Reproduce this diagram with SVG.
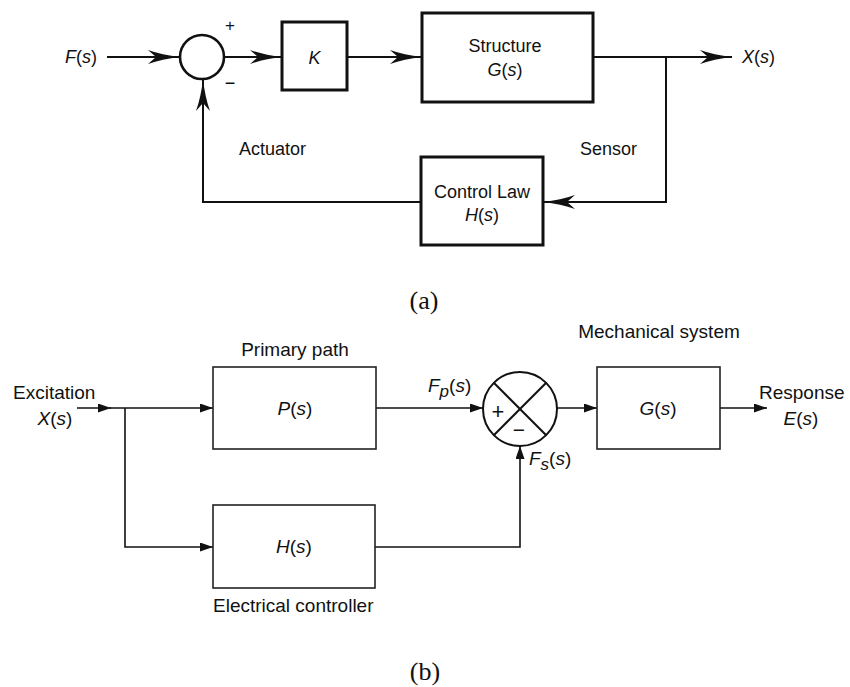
<svg xmlns="http://www.w3.org/2000/svg" width="850" height="687" viewBox="0 0 850 687">
<style>
.bg{fill:#fff}
.ta{font-family:"Liberation Sans",Arial,sans-serif;font-size:18px;fill:#111}
.tb{font-family:"Liberation Sans",Arial,sans-serif;font-size:19px;fill:#111}
.cap{font-family:"Liberation Serif","DejaVu Serif",serif;font-size:26px;fill:#111}
.i{font-style:italic}
.boxa{fill:#fff;stroke:#111;stroke-width:3}
.boxb{fill:#fff;stroke:#222;stroke-width:1.6}
.la{fill:none;stroke:#111;stroke-width:2}
.lb{fill:none;stroke:#111;stroke-width:1.6}
.ma{marker-end:url(#arrA)}
.mb{marker-end:url(#arrB)}
.mid{text-anchor:middle}
</style>
<defs>
<marker id="arrA" viewBox="0 0 32 14" refX="32" refY="7" markerWidth="32" markerHeight="14" markerUnits="userSpaceOnUse" orient="auto">
<path d="M0,0 Q14,5 32,7 Q14,9 0,14 L8,7 Z" fill="#111"/>
</marker>
<marker id="arrB" viewBox="0 0 13 9" refX="13" refY="4.5" markerWidth="13" markerHeight="9" markerUnits="userSpaceOnUse" orient="auto">
<path d="M0,0 L13,4.5 L0,9 Z" fill="#111"/>
</marker>
</defs>
<rect class="bg" x="0" y="0" width="850" height="687"/>

<g id="connectors">
<!-- (a) -->
<line class="la ma" x1="107" y1="57" x2="180" y2="57"/>
<line class="la ma" x1="224" y1="57" x2="282" y2="57"/>
<line class="la ma" x1="347" y1="57" x2="422" y2="57"/>
<line class="la ma" x1="593" y1="57" x2="732" y2="57"/>
<polyline class="la ma" points="666,57 666,202 543,202"/>
<polyline class="la ma" points="421,202 203,202 203,79"/>
<!-- (b) -->
<line class="lb mb" x1="77" y1="408" x2="111" y2="408"/>
<line class="lb mb" x1="110" y1="408" x2="213" y2="408"/>
<polyline class="lb mb" points="125,408 125,547 213,547"/>
<line class="lb mb" x1="376" y1="408" x2="483" y2="408"/>
<line class="lb mb" x1="557" y1="408" x2="597" y2="408"/>
<line class="lb mb" x1="720" y1="408" x2="767" y2="408"/>
<polyline class="lb mb" points="375,547 520,547 520,446"/>
</g>

<g id="sum-a">
<circle cx="202" cy="57" r="22" fill="#fff" stroke="#111" stroke-width="2.6"/>
<text class="ta mid" x="230" y="31" style="font-size:17px">+</text>
<text class="ta mid" x="230" y="89">−</text>
</g>
<g id="gain-k">
<rect class="boxa" x="282" y="22" width="65" height="68"/>
<text class="ta mid i" x="314.5" y="63.5">K</text>
</g>
<g id="structure">
<rect class="boxa" x="422" y="13" width="171" height="89"/>
<text class="ta mid" x="505" y="52">Structure</text>
<text class="ta mid" x="505" y="76"><tspan class="i">G</tspan>(<tspan class="i">s</tspan>)</text>
</g>
<g id="control-law">
<rect class="boxa" x="421" y="157" width="122" height="88"/>
<text class="ta mid" x="482" y="198">Control Law</text>
<text class="ta mid" x="482" y="221"><tspan class="i">H</tspan>(<tspan class="i">s</tspan>)</text>
</g>
<g id="labels-a">
<text class="ta" x="65" y="63"><tspan class="i">F</tspan>(<tspan class="i">s</tspan>)</text>
<text class="ta" x="742" y="63"><tspan class="i">X</tspan>(<tspan class="i">s</tspan>)</text>
<text class="ta" x="239" y="155">Actuator</text>
<text class="ta" x="580" y="155">Sensor</text>
<text class="cap mid" x="424" y="309">(a)</text>
</g>

<g id="primary-path">
<rect class="boxb" x="213" y="367" width="163" height="82"/>
<text class="tb mid" x="295" y="356">Primary path</text>
<text class="tb mid" x="295" y="415"><tspan class="i">P</tspan>(<tspan class="i">s</tspan>)</text>
</g>
<g id="sum-b">
<circle cx="520" cy="409" r="37" fill="#fff" stroke="#111" stroke-width="2"/>
<line x1="493.8" y1="382.8" x2="546.2" y2="435.2" stroke="#111" stroke-width="2"/>
<line x1="546.2" y1="382.8" x2="493.8" y2="435.2" stroke="#111" stroke-width="2"/>
<text class="tb mid" x="498" y="419" style="font-size:22px">+</text>
<text class="tb mid" x="519" y="437" style="font-size:21px">−</text>
</g>
<g id="mechanical-system">
<rect class="boxb" x="597" y="367" width="123" height="82"/>
<text class="tb mid" x="659" y="338">Mechanical system</text>
<text class="tb mid" x="658" y="415"><tspan class="i">G</tspan>(<tspan class="i">s</tspan>)</text>
</g>
<g id="electrical-controller">
<rect class="boxb" x="213" y="505" width="162" height="83"/>
<text class="tb mid" x="294" y="553"><tspan class="i">H</tspan>(<tspan class="i">s</tspan>)</text>
<text class="tb" x="213" y="612">Electrical controller</text>
</g>
<g id="labels-b">
<text class="tb" x="13" y="399">Excitation</text>
<text class="tb mid" x="55" y="425"><tspan class="i">X</tspan>(<tspan class="i">s</tspan>)</text>
<text class="tb" x="428" y="392"><tspan class="i">F</tspan><tspan class="i" dy="5" style="font-size:17px">p</tspan><tspan dy="-5">(</tspan><tspan class="i">s</tspan>)</text>
<text class="tb" x="529" y="465"><tspan class="i">F</tspan><tspan class="i" dy="5" style="font-size:17px">s</tspan><tspan dy="-5">(</tspan><tspan class="i">s</tspan>)</text>
<text class="tb" x="759" y="399">Response</text>
<text class="tb mid" x="801" y="425"><tspan class="i">E</tspan>(<tspan class="i">s</tspan>)</text>
<text class="cap mid" x="425" y="680">(b)</text>
</g>
</svg>
